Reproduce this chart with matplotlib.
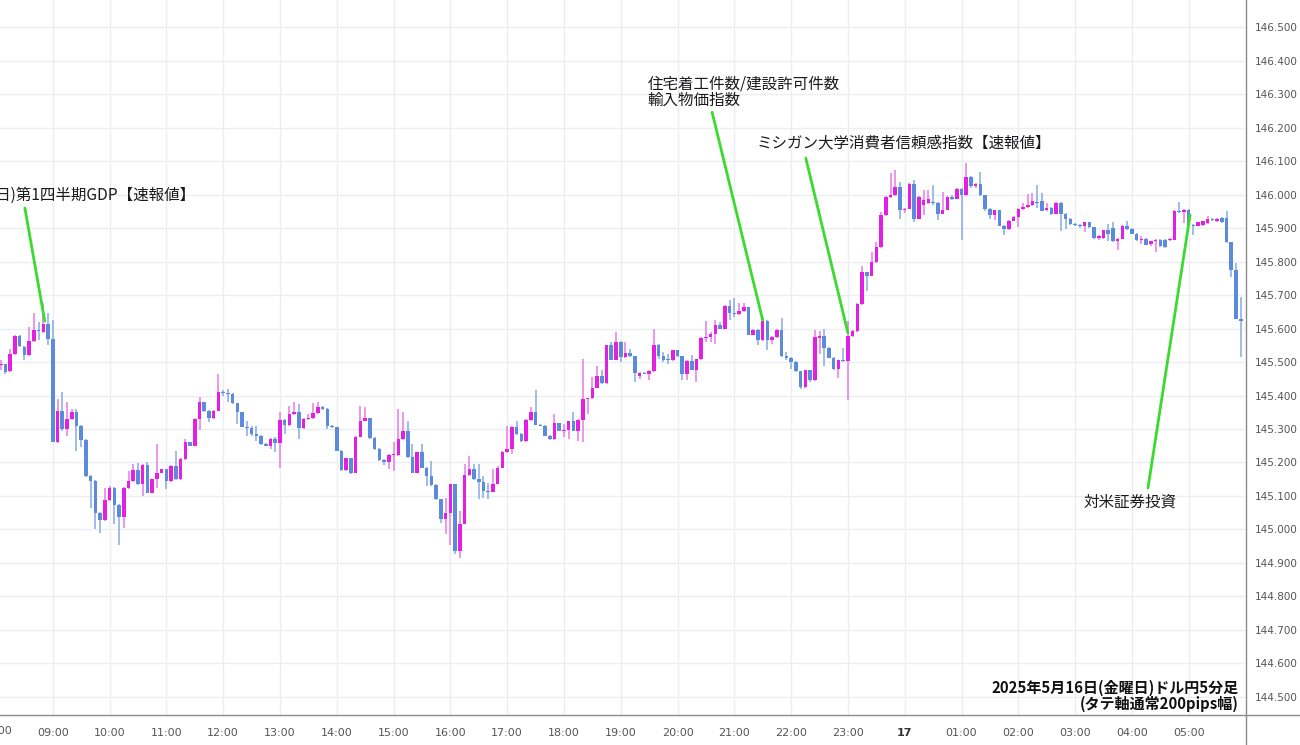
import matplotlib
matplotlib.use("Agg")
import matplotlib.pyplot as plt
import matplotlib.transforms as mtransforms
from matplotlib.lines import Line2D
import numpy as np

plt.rcParams['font.family'] = ['Noto Sans CJK JP', 'DejaVu Sans']

# ---------------- data: USD/JPY 5-minute candles, 08:05 -> 05:55 ----------------
opens = [
    145.490, 145.493, 145.473, 145.523, 145.577, 145.545, 145.520, 145.563, 145.597, 145.590, 145.613,
    145.570, 145.262, 145.355, 145.300, 145.330, 145.350, 145.310, 145.267, 145.160, 145.145, 145.050, 145.027,
    145.087, 145.125, 145.073, 145.037, 145.123, 145.145, 145.177, 145.135, 145.192, 145.110, 145.150, 145.170,
    145.180, 145.145, 145.190, 145.150, 145.210, 145.260, 145.250, 145.330, 145.380, 145.355, 145.333, 145.355,
    145.410, 145.408, 145.405, 145.377, 145.350, 145.307, 145.303, 145.285, 145.280, 145.255, 145.250, 145.270,
    145.257, 145.328, 145.312, 145.345, 145.350, 145.303, 145.330, 145.333, 145.347, 145.367, 145.360, 145.310,
    145.305, 145.235, 145.177, 145.212, 145.170, 145.277, 145.325, 145.332, 145.273, 145.240, 145.207, 145.200,
    145.222, 145.222, 145.270, 145.295, 145.215, 145.170, 145.230, 145.185, 145.160, 145.133, 145.090, 145.030,
    145.050, 145.135, 144.935, 145.017, 145.163, 145.180, 145.150, 145.143, 145.115, 145.113, 145.137, 145.185,
    145.230, 145.240, 145.307, 145.285, 145.263, 145.327, 145.352, 145.313, 145.310, 145.280, 145.270, 145.317,
    145.295, 145.297, 145.323, 145.295, 145.327, 145.390, 145.392, 145.423, 145.457, 145.437, 145.550, 145.507,
    145.560, 145.515, 145.528, 145.517, 145.457, 145.467, 145.465, 145.473, 145.552, 145.517, 145.510, 145.505,
    145.535, 145.517, 145.463, 145.503, 145.477, 145.508, 145.572, 145.575, 145.585, 145.612, 145.600, 145.667,
    145.645, 145.642, 145.652, 145.663, 145.582, 145.597, 145.565, 145.623, 145.565, 145.575, 145.595, 145.518,
    145.512, 145.500, 145.472, 145.425, 145.475, 145.445, 145.572, 145.577, 145.543, 145.513, 145.478, 145.505,
    145.503, 145.578, 145.593, 145.673, 145.768, 145.758, 145.798, 145.843, 145.938, 145.993, 145.998, 146.023,
    145.953, 145.958, 146.033, 145.928, 145.968, 145.975, 145.978, 145.975, 145.943, 145.955, 145.993, 145.988,
    146.018, 145.998, 146.053, 146.025, 146.033, 145.998, 145.958, 145.938, 145.953, 145.907, 145.897, 145.922,
    145.934, 145.957, 145.962, 145.969, 145.978, 145.980, 145.954, 145.960, 145.943, 145.975, 145.943, 145.927,
    145.912, 145.910, 145.907, 145.917, 145.902, 145.870, 145.870, 145.893, 145.900, 145.860, 145.868, 145.907,
    145.897, 145.883, 145.863, 145.867, 145.853, 145.860, 145.865, 145.863, 145.863, 145.865, 145.952, 145.947,
    145.955, 145.910, 145.907, 145.908, 145.915, 145.928, 145.920, 145.930, 145.930, 145.857, 145.775, 145.629,
]
highs = [
    145.505, 145.495, 145.540, 145.580, 145.580, 145.548, 145.605, 145.645, 145.620, 145.675, 145.645,
    145.625, 145.390, 145.410, 145.380, 145.360, 145.360, 145.312, 145.270, 145.162, 145.147, 145.052, 145.125,
    145.130, 145.127, 145.075, 145.127, 145.175, 145.195, 145.197, 145.194, 145.200, 145.152, 145.255, 145.182,
    145.182, 145.192, 145.235, 145.212, 145.270, 145.262, 145.332, 145.395, 145.382, 145.357, 145.357, 145.465,
    145.415, 145.420, 145.407, 145.379, 145.352, 145.325, 145.310, 145.310, 145.282, 145.258, 145.272, 145.275,
    145.350, 145.330, 145.370, 145.382, 145.375, 145.332, 145.345, 145.377, 145.380, 145.370, 145.362, 145.312,
    145.307, 145.237, 145.214, 145.214, 145.279, 145.370, 145.365, 145.334, 145.275, 145.242, 145.209, 145.224,
    145.260, 145.360, 145.350, 145.325, 145.255, 145.232, 145.255, 145.187, 145.205, 145.135, 145.092, 145.095,
    145.137, 145.137, 145.055, 145.195, 145.220, 145.195, 145.195, 145.160, 145.140, 145.180, 145.190, 145.235,
    145.310, 145.309, 145.325, 145.287, 145.329, 145.367, 145.415, 145.315, 145.312, 145.282, 145.345, 145.319,
    145.315, 145.325, 145.350, 145.329, 145.510, 145.394, 145.455, 145.487, 145.475, 145.552, 145.560, 145.590,
    145.562, 145.560, 145.540, 145.519, 145.469, 145.469, 145.475, 145.600, 145.554, 145.530, 145.525, 145.537,
    145.537, 145.519, 145.505, 145.520, 145.510, 145.574, 145.623, 145.590, 145.625, 145.620, 145.669, 145.685,
    145.690, 145.675, 145.675, 145.665, 145.599, 145.599, 145.635, 145.625, 145.577, 145.600, 145.630, 145.530,
    145.514, 145.502, 145.474, 145.477, 145.477, 145.595, 145.592, 145.598, 145.545, 145.515, 145.507, 145.543,
    145.623, 145.595, 145.675, 145.788, 145.770, 145.828, 145.858, 145.948, 145.995, 146.063, 146.073, 146.038,
    145.960, 146.035, 146.045, 145.995, 146.013, 146.015, 146.028, 145.977, 146.008, 145.995, 146.000, 146.020,
    146.020, 146.095, 146.055, 146.035, 146.068, 146.000, 145.960, 145.955, 145.955, 145.909, 145.924, 145.936,
    145.959, 145.974, 146.002, 146.004, 146.030, 146.005, 145.975, 145.962, 145.977, 145.977, 145.945, 145.929,
    145.914, 145.912, 145.919, 145.919, 145.904, 145.880, 145.895, 145.912, 145.917, 145.870, 145.909, 145.920,
    145.899, 145.885, 145.877, 145.869, 145.862, 145.867, 145.867, 145.866, 145.870, 145.954, 145.977, 145.957,
    145.957, 145.912, 145.919, 145.922, 145.935, 145.930, 145.930, 145.932, 145.950, 145.859, 145.797, 145.693,
]
lows = [
    145.475, 145.465, 145.470, 145.520, 145.545, 145.507, 145.518, 145.560, 145.565, 145.588, 145.550,
    145.260, 145.258, 145.295, 145.280, 145.328, 145.235, 145.245, 145.158, 145.065, 145.000, 144.990, 145.025,
    145.085, 145.015, 144.955, 145.005, 145.120, 145.143, 145.133, 145.100, 145.108, 145.108, 145.125, 145.168,
    145.120, 145.143, 145.148, 145.148, 145.208, 145.248, 145.248, 145.296, 145.352, 145.320, 145.331, 145.353,
    145.400, 145.380, 145.375, 145.315, 145.305, 145.280, 145.280, 145.265, 145.253, 145.248, 145.240, 145.230,
    145.185, 145.285, 145.310, 145.343, 145.270, 145.300, 145.328, 145.331, 145.345, 145.358, 145.300, 145.303,
    145.233, 145.175, 145.175, 145.165, 145.168, 145.275, 145.323, 145.271, 145.238, 145.205, 145.193, 145.180,
    145.175, 145.220, 145.268, 145.213, 145.168, 145.168, 145.183, 145.130, 145.131, 145.088, 145.020, 144.985,
    144.955, 144.927, 144.915, 145.015, 145.161, 145.148, 145.090, 145.095, 145.090, 145.111, 145.135, 145.183,
    145.228, 145.225, 145.283, 145.261, 145.261, 145.325, 145.311, 145.308, 145.278, 145.268, 145.268, 145.293,
    145.277, 145.270, 145.293, 145.265, 145.260, 145.345, 145.390, 145.421, 145.435, 145.435, 145.505, 145.505,
    145.500, 145.513, 145.515, 145.440, 145.450, 145.463, 145.445, 145.471, 145.510, 145.500, 145.495, 145.503,
    145.515, 145.445, 145.445, 145.475, 145.440, 145.506, 145.560, 145.560, 145.555, 145.598, 145.598, 145.625,
    145.635, 145.640, 145.650, 145.580, 145.580, 145.550, 145.563, 145.535, 145.555, 145.573, 145.516, 145.505,
    145.480, 145.470, 145.420, 145.423, 145.440, 145.443, 145.523, 145.488, 145.511, 145.476, 145.453, 145.500,
    145.388, 145.576, 145.591, 145.671, 145.713, 145.756, 145.796, 145.841, 145.936, 145.991, 145.996, 145.928,
    145.945, 145.956, 145.918, 145.926, 145.938, 145.973, 145.970, 145.923, 145.941, 145.953, 145.985, 145.986,
    145.863, 145.996, 146.020, 146.020, 145.996, 145.950, 145.928, 145.923, 145.905, 145.880, 145.895, 145.920,
    145.902, 145.955, 145.960, 145.967, 145.960, 145.950, 145.950, 145.940, 145.941, 145.890, 145.898, 145.910,
    145.905, 145.900, 145.888, 145.900, 145.868, 145.865, 145.868, 145.862, 145.858, 145.835, 145.866, 145.895,
    145.881, 145.861, 145.852, 145.848, 145.847, 145.830, 145.843, 145.841, 145.861, 145.863, 145.945, 145.915,
    145.908, 145.878, 145.905, 145.906, 145.913, 145.920, 145.918, 145.915, 145.855, 145.753, 145.627, 145.515,
]
closes = [
    145.494, 145.470, 145.523, 145.577, 145.548, 145.520, 145.563, 145.597, 145.593, 145.613, 145.570,
    145.262, 145.355, 145.300, 145.330, 145.350, 145.310, 145.267, 145.160, 145.145, 145.050, 145.027, 145.087,
    145.125, 145.073, 145.037, 145.123, 145.145, 145.177, 145.135, 145.192, 145.110, 145.150, 145.170, 145.180,
    145.145, 145.190, 145.150, 145.210, 145.260, 145.250, 145.330, 145.380, 145.355, 145.333, 145.355, 145.410,
    145.408, 145.405, 145.377, 145.350, 145.307, 145.303, 145.285, 145.280, 145.255, 145.250, 145.270, 145.257,
    145.328, 145.312, 145.345, 145.350, 145.303, 145.330, 145.333, 145.347, 145.367, 145.360, 145.310, 145.305,
    145.235, 145.177, 145.212, 145.170, 145.277, 145.325, 145.332, 145.273, 145.240, 145.207, 145.200, 145.222,
    145.224, 145.270, 145.295, 145.215, 145.170, 145.230, 145.185, 145.160, 145.133, 145.090, 145.030, 145.050,
    145.135, 144.935, 145.017, 145.163, 145.180, 145.150, 145.143, 145.115, 145.113, 145.137, 145.185, 145.230,
    145.240, 145.307, 145.285, 145.263, 145.327, 145.352, 145.313, 145.310, 145.280, 145.270, 145.317, 145.295,
    145.297, 145.323, 145.295, 145.327, 145.390, 145.392, 145.423, 145.457, 145.437, 145.550, 145.507, 145.560,
    145.515, 145.528, 145.517, 145.467, 145.467, 145.465, 145.473, 145.552, 145.517, 145.507, 145.505, 145.535,
    145.517, 145.463, 145.503, 145.477, 145.508, 145.572, 145.575, 145.585, 145.612, 145.600, 145.667, 145.645,
    145.642, 145.652, 145.663, 145.582, 145.597, 145.565, 145.623, 145.565, 145.575, 145.595, 145.518, 145.512,
    145.500, 145.472, 145.425, 145.475, 145.445, 145.575, 145.577, 145.543, 145.513, 145.478, 145.505, 145.503,
    145.578, 145.593, 145.673, 145.768, 145.758, 145.798, 145.843, 145.938, 145.993, 145.998, 146.023, 145.953,
    145.958, 146.033, 145.928, 145.993, 145.985, 145.988, 145.975, 145.943, 145.955, 145.993, 145.988, 146.018,
    145.998, 146.053, 146.025, 146.033, 145.998, 145.958, 145.938, 145.953, 145.907, 145.897, 145.922, 145.934,
    145.957, 145.962, 145.969, 145.980, 145.975, 145.952, 145.960, 145.943, 145.975, 145.943, 145.927, 145.912,
    145.910, 145.907, 145.917, 145.902, 145.870, 145.877, 145.893, 145.882, 145.860, 145.868, 145.907, 145.897,
    145.883, 145.863, 145.867, 145.850, 145.860, 145.865, 145.845, 145.843, 145.868, 145.952, 145.947, 145.955,
    145.910, 145.907, 145.917, 145.920, 145.928, 145.925, 145.928, 145.917, 145.857, 145.775, 145.629, 145.622,
]
first_candle = 1          # 08:05 (index 0 = 08:00)
candles_per_hour = 12
hour_labels = ["09:00", "10:00", "11:00", "12:00", "13:00", "14:00", "15:00", "16:00",
               "17:00", "18:00", "19:00", "20:00", "21:00", "22:00", "23:00", "17",
               "01:00", "02:00", "03:00", "04:00", "05:00"]
first_hour_label = "08:00"
y_ticks = [144.5, 144.6, 144.7, 144.8, 144.9, 145.0, 145.1, 145.2, 145.3, 145.4, 145.5,
           145.6, 145.7, 145.8, 145.9, 146.0, 146.1, 146.2, 146.3, 146.4, 146.5]
event_gdp = "(日)第1四半期GDP【速報値】"
event_housing = ["住宅着工件数/建設許可件数", "輸入物価指数"]
event_michigan = "ミシガン大学消費者信頼感指数【速報値】"
event_tic = "対米証券投資"
caption = ["2025年5月16日(金曜日)ドル円5分足", "(タテ軸通常200pips幅)"]

# ---------------- styling ----------------
UP = "#e21fe3"
DOWN = "#5a8bdc"
UP_WICK = "#e77be8"
DOWN_WICK = "#86a9e4"
GRID = "#ebeff4"
GREEN = "#3ada2e"
AXISLINE = "#8a8a8a"

o = np.array(opens); h = np.array(highs); l = np.array(lows); c = np.array(closes)
x = np.arange(first_candle, first_candle + len(o))
up = c >= o

W, H = 1300, 745
fig = plt.figure(figsize=(W / 100, H / 100), dpi=100)
ax = fig.add_axes([0, 30 / H, 1245 / W, 715 / H])
ax.set_xlim(0.845, 263.9)
ax.set_ylim(144.446, 146.581)

# grid
for t in y_ticks:
    ax.axhline(t, color=GRID, lw=1, zorder=0)
hour_pos = [candles_per_hour * (k + 1) for k in range(len(hour_labels))]
for p in hour_pos:
    ax.axvline(p, color=GRID, lw=1, zorder=0)

# wicks
ax.vlines(x[up], l[up], h[up], color=UP_WICK, lw=1.1, zorder=2)
ax.vlines(x[~up], l[~up], h[~up], color=DOWN_WICK, lw=1.1, zorder=2)
# bodies
bottoms = np.minimum(o, c)
heights = np.maximum(np.abs(c - o), 0.003)
ax.bar(x[up], heights[up], bottom=bottoms[up], width=0.75, color=UP, zorder=3, linewidth=0)
ax.bar(x[~up], heights[~up], bottom=bottoms[~up], width=0.75, color=DOWN, zorder=3, linewidth=0)

# axes cosmetics
for s in ax.spines.values():
    s.set_visible(False)
ax.yaxis.tick_right()
ax.set_yticks(y_ticks)
ax.set_yticklabels([f"{t:.3f}" for t in y_ticks])
ax.tick_params(axis='y', length=0, pad=7, labelsize=7.5, labelcolor="#555555")
ax.set_xticks(hour_pos)
ax.set_xticklabels(hour_labels)
ax.tick_params(axis='x', length=0, pad=9, labelsize=8, labelcolor="#555555")
for lab in ax.get_yticklabels():
    lab.set_family("DejaVu Sans")
for lab in ax.get_xticklabels():
    lab.set_family("DejaVu Sans")
    if lab.get_text() == "17":
        lab.set_fontweight("bold")
        lab.set_color("#333333")
trans = mtransforms.blended_transform_factory(ax.transData, ax.transAxes)
ax.text(0, -16 / 715, first_hour_label, transform=trans, ha='center', va='center',
        fontsize=8, color="#555555", family="DejaVu Sans", clip_on=False)

# frame lines (price scale border and time scale border)
fig.add_artist(Line2D([1245.5 / W, 1245.5 / W], [0, 1], transform=fig.transFigure, color=AXISLINE, lw=1))
fig.add_artist(Line2D([0, 1], [30 / H, 30 / H], transform=fig.transFigure, color=AXISLINE, lw=1))

# event annotations
def pointer(x0, y0, x1, y1):
    ax.annotate("", xy=(x1, y1), xytext=(x0, y0),
                arrowprops=dict(arrowstyle='-', color=GREEN, lw=2, shrinkA=0, shrinkB=0), zorder=5)

txt = dict(fontsize=11.2, color="#1a1a1a", zorder=6)
ax.text(42.2, 145.999, event_gdp, ha='right', va='center', **txt)
pointer(6.1, 145.960, 10.3, 145.622)
ax.text(137.7, 146.330, event_housing[0], ha='left', va='center', **txt)
ax.text(137.7, 146.282, event_housing[1], ha='left', va='center', **txt)
pointer(151.3, 146.246, 162.0, 145.625)
ax.text(160.8, 146.154, event_michigan, ha='left', va='center', **txt)
pointer(171.1, 146.109, 180.0, 145.587)
ax.text(229.7, 145.082, event_tic, ha='left', va='center', **txt)
pointer(243.4, 145.124, 252.3, 145.939)

cap = dict(fontsize=10.8, fontweight='bold', color="#111111", zorder=6, ha='right', va='center')
ax.text(0.9945, 1 - 688 / 715, caption[0], transform=ax.transAxes, **cap)
ax.text(0.9945, 1 - 704 / 715, caption[1], transform=ax.transAxes, **cap)

fig.savefig("out.png", dpi=100)
